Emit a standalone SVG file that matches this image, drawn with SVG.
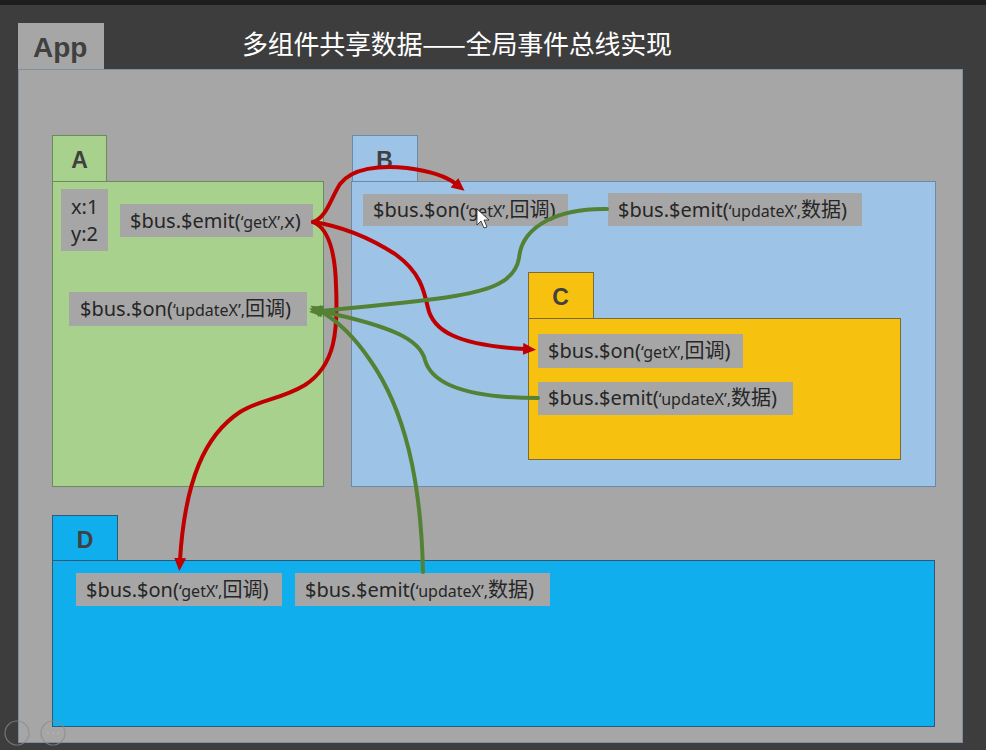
<svg xmlns="http://www.w3.org/2000/svg" width="986" height="750" viewBox="0 0 986 750">
<defs>
<style>
.tabtxt{font-family:"Liberation Sans",Arial,sans-serif;font-weight:bold;fill:#404040;}
.code{font-family:"Noto Sans","Noto Sans CJK SC",sans-serif;font-size:20px;fill:#262626;}
.q{font-size:16px;}
.lbl{fill:#a6a6a6;}
.red{fill:none;stroke:#c00000;stroke-width:4;stroke-linecap:round;}
.green{fill:none;stroke:#548235;stroke-width:4;stroke-linecap:round;}
</style>
<marker id="arrR" markerUnits="userSpaceOnUse" markerWidth="16" markerHeight="14" refX="2" refY="6" orient="auto">
<path d="M0,0 L13,6 L0,12 z" fill="#c00000"/>
</marker>
<marker id="arrG" markerUnits="userSpaceOnUse" markerWidth="16" markerHeight="14" refX="2" refY="6" orient="auto">
<path d="M0,0 L13,6 L0,12 z" fill="#548235"/>
</marker>
</defs>
<rect x="0" y="0" width="986" height="750" fill="#3d3d3d"/>
<rect x="0" y="0" width="986" height="5" fill="#1e1e1e"/>

<g id="app">
<rect x="18" y="23" width="86" height="46" fill="#a6a6a6"/>
<text class="tabtxt" x="33" y="57" font-size="28">App</text>
<rect x="18.5" y="69.5" width="944" height="673" fill="#a6a6a6" stroke="#7d8fa3" stroke-width="1"/>
</g>
<text id="title" x="242" y="54" font-family="'Noto Sans CJK SC',sans-serif" font-size="26" fill="#ffffff" textLength="430">多组件共享数据——全局事件总线实现</text>

<g id="A">
<rect x="52.5" y="135.5" width="54" height="46" fill="#a9d18e" stroke="#6d8a5c"/>
<text class="tabtxt" x="79.5" y="168" font-size="23" text-anchor="middle">A</text>
<rect x="52.5" y="181.5" width="271" height="305" fill="#a9d18e" stroke="#6d8a5c"/>
<rect class="lbl" x="61" y="189" width="47" height="62"/>
<text class="code" x="71" y="214" font-size="18">x:1</text>
<text class="code" x="71" y="241" font-size="18">y:2</text>
<rect class="lbl" x="120" y="204" width="193" height="33"/>
<text class="code" x="130" y="228">$bus.$emit(<tspan class="q">‘getX’,</tspan>x)</text>
<rect class="lbl" x="69" y="292" width="238" height="34"/>
<text class="code" x="80" y="316">$bus.$on(<tspan class="q">‘updateX’,</tspan>回调)</text>
</g>

<g id="B">
<rect x="352.5" y="135.5" width="65" height="46" fill="#9dc3e6" stroke="#6a8aac"/>
<text class="tabtxt" x="384.5" y="168" font-size="23" text-anchor="middle">B</text>
<rect x="351.5" y="181.5" width="584" height="305" fill="#9dc3e6" stroke="#6a8aac"/>
<rect class="lbl" x="363" y="194" width="205" height="32"/>
<text class="code" x="373" y="217">$bus.$on(<tspan class="q">‘getX’,</tspan>回调)</text>
<rect class="lbl" x="608" y="193" width="254" height="33"/>
<text class="code" x="618" y="217">$bus.$emit(<tspan class="q">‘updateX’,</tspan>数据)</text>
</g>

<g id="C">
<rect x="528.5" y="272.5" width="65" height="46" fill="#f7c10f" stroke="#7a6a3a"/>
<text class="tabtxt" x="560.5" y="305" font-size="23" text-anchor="middle">C</text>
<rect x="528.5" y="318.5" width="372" height="141" fill="#f7c10f" stroke="#7a6a3a"/>
<rect class="lbl" x="538" y="334" width="205" height="34"/>
<text class="code" x="548" y="358">$bus.$on(<tspan class="q">‘getX’,</tspan>回调)</text>
<rect class="lbl" x="538" y="382" width="255" height="33"/>
<text class="code" x="548" y="405">$bus.$emit(<tspan class="q">‘updateX’,</tspan>数据)</text>
</g>

<g id="D">
<rect x="52.5" y="515.5" width="65" height="45" fill="#10aeec" stroke="#2d5a78"/>
<text class="tabtxt" x="85" y="548" font-size="23" text-anchor="middle">D</text>
<rect x="52.5" y="560.5" width="882" height="166" fill="#10aeec" stroke="#2d5a78"/>
<rect class="lbl" x="76" y="573" width="206" height="33"/>
<text class="code" x="86" y="597">$bus.$on(<tspan class="q">‘getX’,</tspan>回调)</text>
<rect class="lbl" x="295" y="573" width="255" height="33"/>
<text class="code" x="305" y="597">$bus.$emit(<tspan class="q">‘updateX’,</tspan>数据)</text>
</g>

<g id="connectors">
<path class="red" d="M313,222 C326,218 330,200 340,184 C352,168 380,165 407,168 C430,171 446,176 456,184" marker-end="url(#arrR)"/>
<path class="red" d="M313,222 C340,226 370,238 395,254 C420,272 424,290 428,308 C433,330 455,345 525,349" marker-end="url(#arrR)"/>
<path class="red" d="M313,222 C328,228 335,250 336,285 C338,330 336,365 305,385 C280,400 258,400 240,412 C205,435 185,480 180,560" marker-end="url(#arrR)"/>
<path class="green" d="M607,209 C560,208 522,225 519,258 C515,282 490,290 455,296 C420,302 370,306 320,311" marker-end="url(#arrG)"/>
<path class="green" d="M538,398 C470,398 432,385 425,360 C420,340 395,327 320,311" marker-end="url(#arrG)"/>
<path class="green" d="M423,572 C421,480 405,410 370,360 C355,338 340,322 320,311" marker-end="url(#arrG)"/>
</g>

<g id="cursor">
<path d="M477,209 L477,225 L481,221 L484,228 L487,227 L484,220 L489,220 z" fill="#ffffff" stroke="#222222" stroke-width="0.8"/>
</g>

<g id="player-icons" opacity="0.7">
<circle cx="17" cy="733" r="12" fill="none" stroke="#8a8a8a" stroke-width="1.2"/>
<circle cx="53" cy="733" r="12" fill="none" stroke="#8a8a8a" stroke-width="1.2"/>
<circle cx="48" cy="733" r="1.2" fill="#b5b5b5"/>
<circle cx="53" cy="733" r="1.2" fill="#b5b5b5"/>
<circle cx="58" cy="733" r="1.2" fill="#b5b5b5"/>
</g>
</svg>
